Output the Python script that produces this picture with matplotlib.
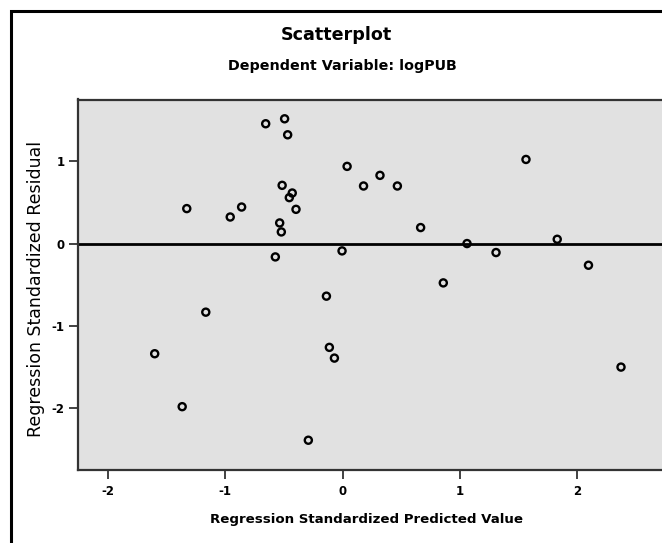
import numpy as np
import matplotlib
matplotlib.use('Agg')
import matplotlib.pyplot as plt
from matplotlib.patches import Rectangle

# standardized predicted values (x) and standardized residuals (y)
pred = [-0.654, -0.493, -0.467, 0.039, 1.562, 0.319, 0.179, 0.467, -0.514, -0.428,
        -0.453, -0.396, -1.326, -0.859, -0.956, -0.535, -0.521, 0.665, 1.060, 1.828,
        1.307, -0.004, -0.572, 2.094, 0.858, -0.137, -1.164, -1.599, -0.112, -0.069,
        2.371, -1.365, -0.291]
resid = [1.453, 1.513, 1.319, 0.936, 1.020, 0.827, 0.698, 0.698, 0.706, 0.613,
         0.557, 0.415, 0.424, 0.443, 0.322, 0.250, 0.141, 0.194, 0.000, 0.052,
         -0.109, -0.089, -0.162, -0.263, -0.477, -0.638, -0.832, -1.336, -1.259, -1.389,
         -1.498, -1.978, -2.385]

xticks = [-2, -1, 0, 1, 2]
yticks = [-2, -1, 0, 1]

title = 'Scatterplot'
subtitle = 'Dependent Variable: logPUB'
xlabel = 'Regression Standardized Predicted Value'
ylabel = 'Regression Standardized Residual'

bold = ['DejaVu Sans']
W, H = 662, 543

fig = plt.figure(figsize=(W / 100, H / 100), dpi=100)
fig.patch.set_facecolor('white')

# outer frame (left and top visible, runs off the image right/bottom)
fig.add_artist(Rectangle((11 / W, -0.05), 1.2, (H - 11) / H + 0.05, transform=fig.transFigure,
                         fill=False, edgecolor='black', linewidth=2.2))

left, top, bottom = 78 / W, 99.5 / H, 469.5 / H
ax = fig.add_axes([left, 1 - bottom, 1.0 - left, bottom - top])
ax.set_facecolor('#e1e1e1')
ax.scatter(pred, resid, s=26, facecolors='none', edgecolors='black', linewidths=1.7, zorder=3)
ax.axhline(0, color='black', linewidth=2.0, zorder=2)

ax.set_xlim(-2.252, 2.72)
ax.set_ylim(-2.74, 1.747)
ax.set_xticks(xticks)
ax.set_yticks(yticks)
ax.set_xticklabels([str(t) for t in xticks], family=bold, fontweight='bold', fontsize=8.5)
ax.set_yticklabels([str(t) for t in yticks], family=bold, fontweight='bold', fontsize=8.5)
ax.tick_params(direction='out', length=6.5, width=1.3, color='#333333', pad=3)
ax.tick_params(axis='x', pad=5)
for side in ['left', 'top', 'bottom']:
    ax.spines[side].set_color('#333333')
    ax.spines[side].set_linewidth(1.6)
ax.spines['right'].set_visible(False)

fig.text(336 / W, 1 - 35 / H, title, ha='center', va='center', family=bold,
         fontweight='bold', fontsize=12.6)
fig.text(342 / W, 1 - 66 / H, subtitle, ha='center', va='center', family=bold,
         fontweight='bold', fontsize=10.3)
fig.text(367 / W, 1 - 520 / H, xlabel, ha='center', va='center', family=bold,
         fontweight='bold', fontsize=9.6)
fig.text(36 / W, 1 - 289 / H, ylabel, ha='center', va='center', rotation=90,
         family=['DejaVu Sans'], fontsize=12.5)

fig.savefig('out.png', dpi=100)
plt.close()
